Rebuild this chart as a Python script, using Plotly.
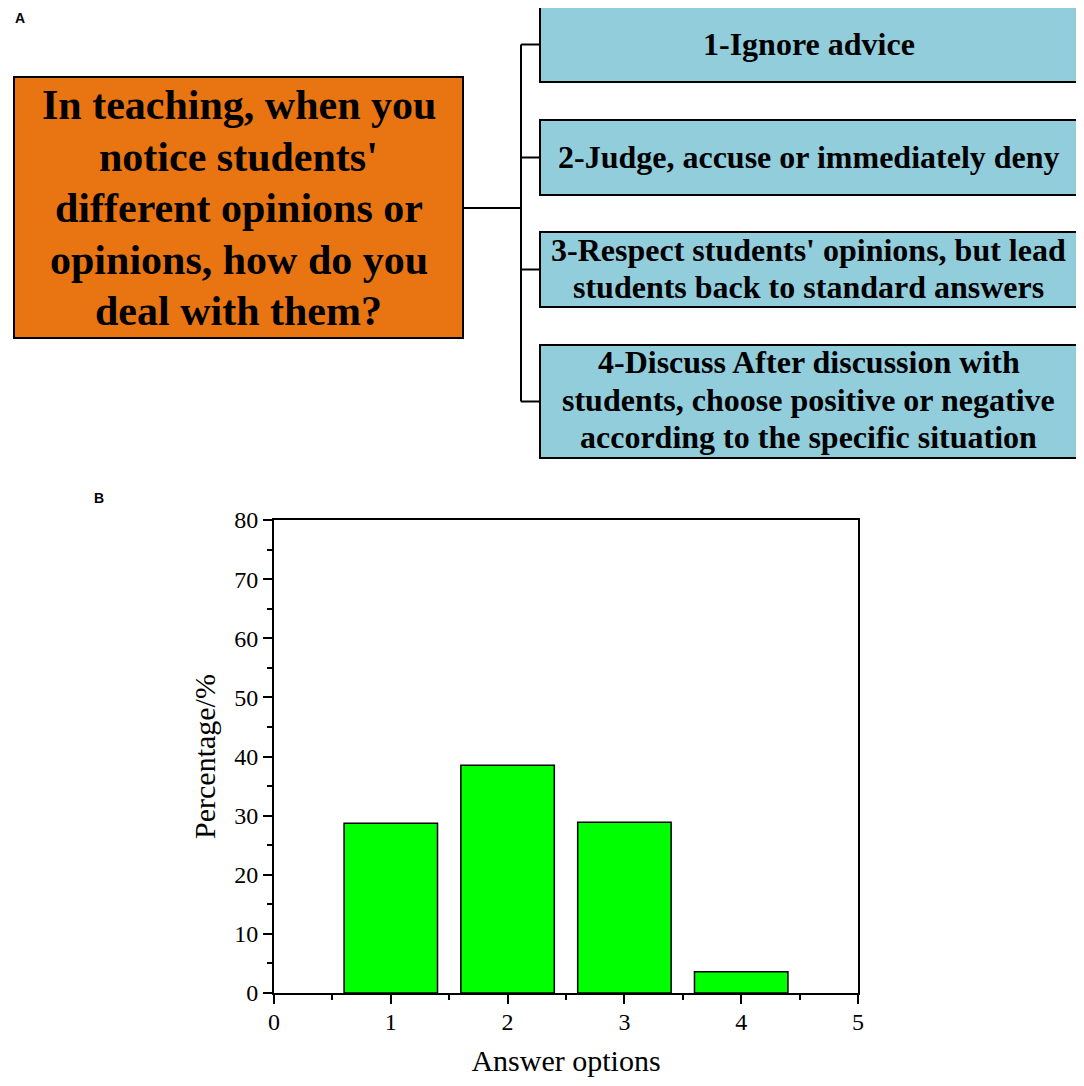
import plotly.graph_objects as go

W, H = 1084, 1086
OFF = 8  # page body margin shifts the whole figure by this much

# data
options = [1, 2, 3, 4]
percentages = [28.7, 38.5, 28.9, 3.6]
x_ticks = [0, 1, 2, 3, 4, 5]
y_ticks = [0, 10, 20, 30, 40, 50, 60, 70, 80]

question = ["In teaching, when you", "notice students'", "different opinions or",
            "opinions, how do you", "deal with them?"]
answers = [
    ["1-Ignore advice"],
    ["2-Judge, accuse or immediately deny"],
    ["3-Respect students' opinions, but lead", "students back to standard answers"],
    ["4-Discuss After discussion with", "students, choose positive or negative",
     "according to the specific situation"],
]


def px(x):
    return (x - OFF) / W


def py(y):
    return 1 - (y - OFF) / H


def box(x0, y0, x1, y1, fill):
    return dict(type="rect", xref="paper", yref="paper",
                x0=px(x0), x1=px(x1), y0=py(y1), y1=py(y0),
                fillcolor=fill, line=dict(color="black", width=2), layer="above")


def line(x0, y0, x1, y1):
    return dict(type="line", xref="paper", yref="paper",
                x0=px(x0), x1=px(x1), y0=py(y0), y1=py(y1),
                line=dict(color="black", width=2))


def label(x, y, text, size, family):
    return dict(x=px(x), y=py(y), xref="paper", yref="paper", text=text, showarrow=False,
                font=dict(family=family, size=size, color="black"),
                xanchor="center", yanchor="middle")


fig = go.Figure(go.Bar(
    x=options, y=percentages, width=0.8,
    marker=dict(color="#00ff00", line=dict(color="black", width=1.5)),
))

serif = "Liberation Serif, Times New Roman, serif"
sans = "Liberation Sans, Arial, sans-serif"

# panel A diagram
shapes = [box(14, 77, 463, 338, "#e87511")]
answer_boxes = [(7, 82), (120, 195), (232, 307), (345, 458)]
for y0, y1 in answer_boxes:
    shapes.append(box(540, y0, 1077, y1, "#92cddc"))
    shapes.append(line(521, (y0 + y1) / 2, 540, (y0 + y1) / 2))
shapes.append(line(463, 208, 521, 208))
shapes.append(line(521, (answer_boxes[0][0] + answer_boxes[0][1]) / 2,
                   521, (answer_boxes[-1][0] + answer_boxes[-1][1]) / 2))

annotations = [
    label(20, 18, "<b>A</b>", 14, sans),
    label(99, 498, "<b>B</b>", 14, sans),
]
for i, txt in enumerate(question):
    annotations.append(label(238.5, 105 + i * 51.5, "<b>" + txt + "</b>", 42, serif))

line_centres = [[44], [157], [250, 287], [362, 400, 437]]
for lines, ys in zip(answers, line_centres):
    for txt, yc in zip(lines, ys):
        annotations.append(label(808.5, yc, "<b>" + txt + "</b>", 32, serif))

fig.update_layout(
    width=W, height=H,
    margin=dict(l=0, r=0, t=0, b=0, autoexpand=False),
    paper_bgcolor="white",
    plot_bgcolor="white",
    showlegend=False,
    shapes=shapes,
    annotations=annotations,
    font=dict(family=serif, color="black"),
)

fig.update_xaxes(
    domain=[px(274), px(858)],
    range=[0, 5], tickvals=x_ticks, ticktext=[str(t) for t in x_ticks],
    ticks="outside", ticklen=9, tickwidth=1.8, tickcolor="black",
    minor=dict(dtick=0.5, tick0=0, ticks="outside", ticklen=5, tickwidth=1.8, tickcolor="black"),
    showline=True, linecolor="black", linewidth=1.8, mirror=True,
    showgrid=False, zeroline=False, ticklabelstandoff=-3,
    tickfont=dict(family=serif, size=24, color="black"),
    title=dict(text="Answer options", font=dict(family=serif, size=30, color="black"), standoff=16),
)
fig.update_yaxes(
    domain=[py(993), py(520)],
    range=[0, 80], tickvals=y_ticks, ticktext=[str(t) for t in y_ticks],
    ticks="outside", ticklen=9, tickwidth=1.8, tickcolor="black",
    minor=dict(dtick=5, tick0=0, ticks="outside", ticklen=5, tickwidth=1.8, tickcolor="black"),
    showline=True, linecolor="black", linewidth=1.8, mirror=True,
    showgrid=False, zeroline=False,
    tickfont=dict(family=serif, size=24, color="black"),
    title=dict(text="Percentage/%", font=dict(family=serif, size=30, color="black"), standoff=10),
)

fig.write_html("out.html")
